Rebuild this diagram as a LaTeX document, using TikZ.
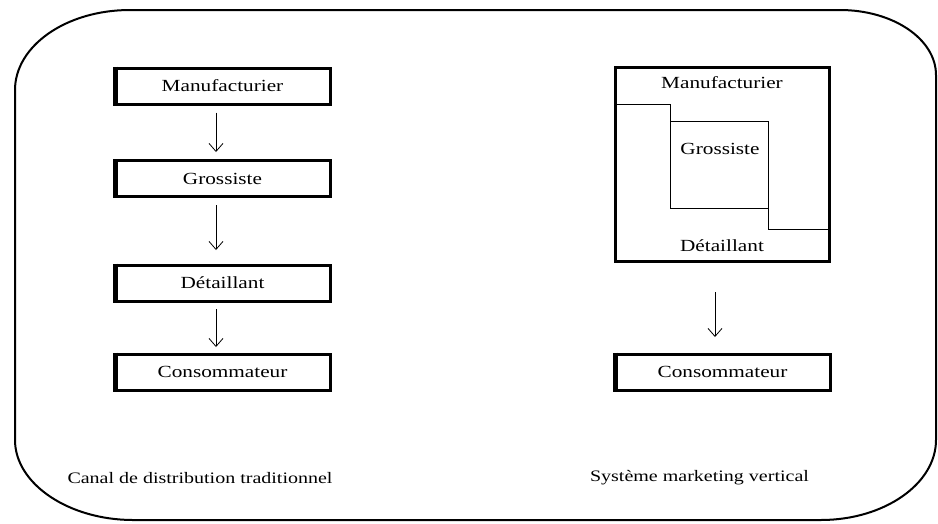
\documentclass[tikz,border=0pt]{standalone}
\usepackage{fontspec}
\setmainfont{Liberation Serif}[FakeStretch=1.25]
\usetikzlibrary{arrows.meta}

\begin{document}
\begin{tikzpicture}[x=1pt,y=-1pt,
    chan/.style={draw,line width=3pt,minimum width=216pt,minimum height=36pt,inner sep=0pt,font=\fontsize{17}{20}\selectfont},
    lbl/.style={inner sep=0pt,font=\fontsize{17}{20}\selectfont},
    flow/.style={line width=0.8pt,-{Straight Barb[length=8pt,width=14pt]}},
    stair/.style={line width=0.8pt}]
    \useasboundingbox (0,0) rectangle (938,523);
    \def\l{222.5}
    \def\r{722.5}
    % outer frame
    \draw[line width=2pt] (15,90) .. controls (15,46) and (66,10) .. (130,10) -- (840,10)
      .. controls (893,10) and (936,39) .. (936,75) -- (936,440)
      .. controls (936,484) and (884,520) .. (821,520) -- (133,520)
      .. controls (69,520) and (15,484) .. (15,440) -- cycle;
    % traditional channel
    \node[chan] (man) at (\l,86) {Manufacturier};
    \node[chan] (gro) at (\l,178.5) {Grossiste};
    \node[chan] (det) at (\l,283) {Détaillant};
    \node[chan] (con) at (\l,372) {Consommateur};
    \draw[flow,shorten <=7pt,shorten >=7pt] ([xshift=-6.5pt]man.south) -- ([xshift=-6.5pt]gro.north);
    \draw[flow,shorten <=7pt,shorten >=13.5pt] ([xshift=-6.5pt]gro.south) -- ([xshift=-6.5pt]det.north);
    \draw[flow,shorten <=6.5pt,shorten >=5.5pt] ([xshift=-6.5pt]det.south) -- ([xshift=-6.5pt]con.north);
    % vertical marketing system
    \node[draw,line width=3pt,minimum width=214pt,minimum height=194pt,inner sep=0pt] (vms) at (\r,164.5) {};
    \node[lbl] (vman) at (722,83) {Manufacturier};
    \node[lbl] (vgro) at (720,149) {Grossiste};
    \node[lbl] (vdet) at (722,246) {Détaillant};
    \draw[stair] (vms.west |- 0,104) -- (670,104) |- (768,208) |- (vms.east |- 0,229);
    \draw[stair] (670,121) -| (768,208);
    \node[chan] (vcon) at (\r,372) {Consommateur};
    \draw[flow,shorten <=29pt,shorten >=15.5pt] ([xshift=-7.5pt]vms.south) -- ([xshift=-7.5pt]vcon.north);
    \foreach \n in {man,gro,det,con,vcon}
      \draw[line width=2pt] ([xshift=3.5pt]\n.north west) -- ([xshift=3.5pt]\n.south west);
    \node[lbl,font=\fontsize{16}{19}\selectfont] (trad) at (200,478) {Canal de distribution traditionnel};
    \node[lbl,font=\fontsize{16}{19}\selectfont] (svm) at (699.5,478) {Système marketing vertical};
\end{tikzpicture}
\end{document}
